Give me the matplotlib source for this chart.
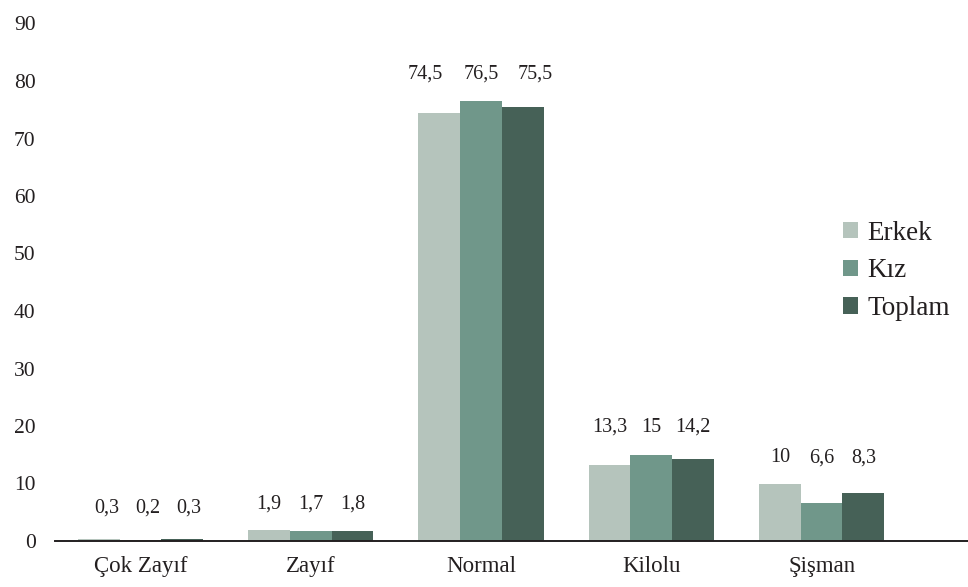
import numpy as np
import matplotlib
matplotlib.use("Agg")
import matplotlib.pyplot as plt

plt.rcParams['font.family'] = ['Liberation Serif', 'DejaVu Serif']

kategoriler = ["Çok Zayıf", "Zayıf", "Normal", "Kilolu", "Şişman"]
erkek = [0.3, 1.9, 74.5, 13.3, 10]
kiz = [0.2, 1.7, 76.5, 15, 6.6]
toplam = [0.3, 1.8, 75.5, 14.2, 8.3]
seri_adlari = ["Erkek", "Kız", "Toplam"]
y_ticks = [0, 10, 20, 30, 40, 50, 60, 70, 80, 90]

renkler = ["#b5c4bc", "#70978a", "#466157"]
yazi_rengi = "#231f20"

# değer etiketlerinin grup başına taban çizgisi yüksekliği (veri birimi)
etiket_y = [4.9, 5.7, 80.5, 19.0, 13.7]
# etiketlerin yatay kaydırması (piksel): [grup][seri]
etiket_dx = [[8, 7, 7], [0, 0, 0], [-14, 0, 12], [0, 0, 0], [0, 0, 0]]

fig = plt.figure(figsize=(9.68, 5.87), dpi=100)
ax = fig.add_axes([55 / 968, 46 / 587, 913 / 968, 517.5 / 587])

x = np.arange(len(kategoriler))
w = 0.245
for i, (seri, ad) in enumerate(zip([erkek, kiz, toplam], seri_adlari)):
    xs = x + (i - 1) * w
    ax.bar(xs, seri, width=w, color=renkler[i], label=ad)
    for g, (xi, v) in enumerate(zip(xs, seri)):
        txt = f"{v:g}".replace(".", ",")
        ax.annotate(txt, (xi, etiket_y[g]), xytext=(etiket_dx[g][i] * 0.72, 0),
                    textcoords="offset points", ha="center", va="baseline",
                    fontsize=14.5, color=yazi_rengi)

ax.set_ylim(0, 90)
ax.set_xlim(-0.502, 4.86)
ax.set_yticks(y_ticks)
ax.set_xticks(x)
ax.set_xticklabels(kategoriler)
ax.tick_params(axis="both", length=0, colors=yazi_rengi)
ax.tick_params(axis="y", pad=14, labelsize=15.5)
ax.tick_params(axis="x", pad=11, labelsize=16.5)
for s in ["top", "right", "left"]:
    ax.spines[s].set_visible(False)
ax.spines["bottom"].set_color(yazi_rengi)
ax.spines["bottom"].set_linewidth(1.4)

leg = ax.legend(loc="center left", bbox_to_anchor=(0.836, 0.522), frameon=False,
                fontsize=19.5, handlelength=0.55, handleheight=0.55, handletextpad=0.35,
                labelspacing=0.47, labelcolor=yazi_rengi)

fig.savefig("out.png", dpi=100)
